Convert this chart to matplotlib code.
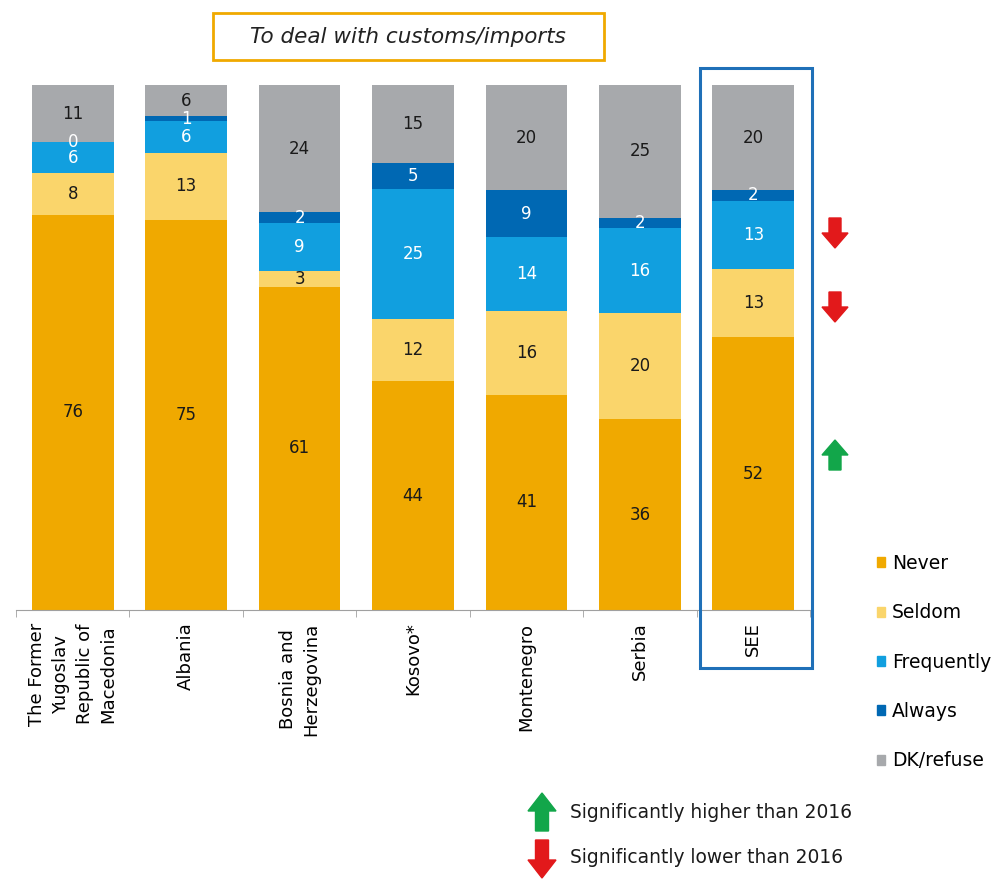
import numpy as np
import matplotlib
matplotlib.use("Agg")
import matplotlib.pyplot as plt
from matplotlib.patches import Rectangle, FancyArrow, Patch

# data
countries = ["The Former\nYugoslav\nRepublic of\nMacedonia", "Albania", "Bosnia and\nHerzegovina",
             "Kosovo*", "Montenegro", "Serbia", "SEE"]
series = ["Never", "Seldom", "Frequently", "Always", "DK/refuse"]
never = [76, 75, 61, 44, 41, 36, 52]
seldom = [8, 13, 3, 12, 16, 20, 13]
frequently = [6, 6, 9, 25, 14, 16, 13]
always = [0, 1, 2, 5, 9, 2, 2]
dk_refuse = [11, 6, 24, 15, 20, 25, 20]

colors = ["#F0A900", "#FAD56B", "#119FDF", "#0068B3", "#A7A9AC"]
text_colors = ["#1a1a1a", "#1a1a1a", "white", "white", "#1a1a1a"]

W, H = 998, 880
fig = plt.figure(figsize=(W / 100, H / 100), dpi=100)
ax = fig.add_axes([16 / W, 1 - 610 / H, 794 / W, 525 / H])

data = np.array([never, seldom, frequently, always, dk_refuse], dtype=float)
shares = data / data.sum(axis=0) * 100
x = np.arange(len(countries))
bottom = np.zeros(len(countries))
for i, name in enumerate(series):
    ax.bar(x, shares[i], bottom=bottom, width=0.72, color=colors[i], label=name)
    for j in range(len(countries)):
        ax.text(x[j], bottom[j] + shares[i][j] / 2, f"{int(data[i][j])}",
                ha="center", va="center", fontsize=12, color=text_colors[i])
    bottom += shares[i]

ax.set_xlim(-0.5, len(countries) - 0.5)
ax.set_ylim(0, 100)
for s in ["top", "right", "left"]:
    ax.spines[s].set_visible(False)
ax.spines["bottom"].set_color("#a0a0a0")
ax.set_yticks([])
ax.set_xticks(x)
ax.set_xticklabels(countries, rotation=90, fontsize=13, linespacing=1.4, va="top", ha="center")
ax.tick_params(axis="x", which="major", length=0, pad=9)
ax.set_xticks(np.arange(-0.5, len(countries)), minor=True)
ax.tick_params(axis="x", which="minor", length=5, color="#a0a0a0")

# title box
fig.text(408 / W, 1 - 37 / H, "To deal with customs/imports", ha="center", va="center",
         fontsize=15.5, style="italic", color="#222222")
fig.patches.append(Rectangle((213 / W, 1 - 60 / H), 391 / W, 47 / H, transform=fig.transFigure,
                             fill=False, edgecolor="#F0A900", linewidth=2))

# SEE highlight box
fig.patches.append(Rectangle((700 / W, 1 - 668 / H), 112 / W, 600 / H, transform=fig.transFigure,
                             fill=False, edgecolor="#1F70B8", linewidth=2.2))

# legend
handles = [Patch(color=c, label=s) for c, s in zip(colors, series)]
fig.legend(handles=handles, loc="upper left", bbox_to_anchor=(877 / W, 1 - 554 / H), frameon=False,
           fontsize=13.5, handlelength=0.45, handleheight=0.45, handletextpad=0.35, labelspacing=1.62,
           borderaxespad=0, borderpad=0)


def arrow(xc, ytop, ybot, up, color, width=12, head=26, head_len=15):
    t = fig.dpi_scale_trans
    if up:
        a = FancyArrow(xc / 100, (H - ybot) / 100, 0, (ybot - ytop) / 100, width=width / 100,
                       head_width=head / 100, head_length=head_len / 100,
                       length_includes_head=True, color=color, transform=t)
    else:
        a = FancyArrow(xc / 100, (H - ytop) / 100, 0, -(ybot - ytop) / 100, width=width / 100,
                       head_width=head / 100, head_length=head_len / 100,
                       length_includes_head=True, color=color, transform=t)
    fig.patches.append(a)


red = "#E2191B"
green = "#12A64A"
arrow(835, 218, 248, False, red)
arrow(835, 292, 322, False, red)
arrow(835, 440, 470, True, green)

arrow(542, 793, 831, True, green, width=13, head=28, head_len=18)
arrow(542, 840, 878, False, red, width=13, head=28, head_len=18)
fig.text(570 / W, 1 - 812 / H, "Significantly higher than 2016", fontsize=13.4, va="center", color="#1a1a1a")
fig.text(570 / W, 1 - 857 / H, "Significantly lower than 2016", fontsize=13.4, va="center", color="#1a1a1a")

fig.savefig("out.png", dpi=100)
